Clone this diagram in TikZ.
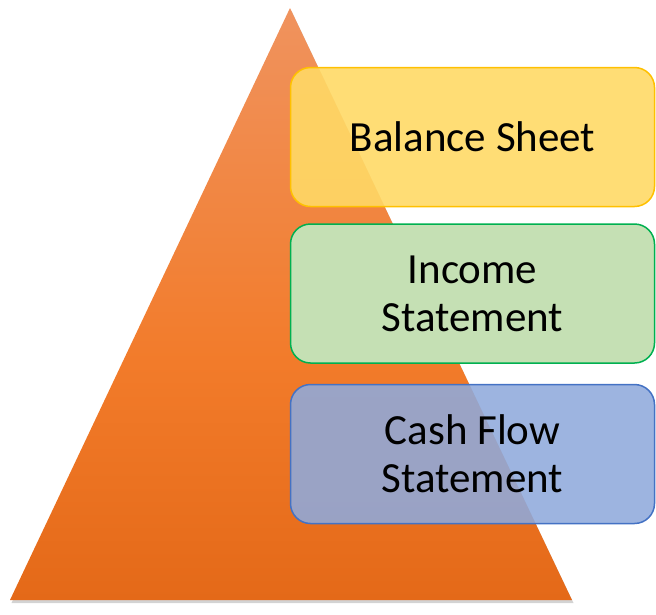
\documentclass[tikz,border=0pt]{standalone}
\usepackage{fontspec}
\setmainfont{Carlito}
\usetikzlibrary{shadows}
\usetikzlibrary{positioning}

\definecolor{tritop}{HTML}{F0935E}
\definecolor{trimid}{HTML}{F27B2A}
\definecolor{tribot}{HTML}{E46918}
\definecolor{balfill}{HTML}{FFD966}
\definecolor{baldraw}{HTML}{FFC000}
\definecolor{incfill}{HTML}{C5E0B4}
\definecolor{incdraw}{HTML}{00B050}
\definecolor{cashfill}{HTML}{8FAADC}
\definecolor{cashdraw}{HTML}{4472C4}

\pgfdeclareverticalshading{pyramidshade}{100bp}{color(0bp)=(tribot); color(25bp)=(tribot); color(45bp)=(trimid); color(75bp)=(tritop); color(100bp)=(tritop)}

\begin{document}
\begin{tikzpicture}[x=1pt, y=-1pt,
    sheetbox/.style={rectangle, rounded corners=20pt, line width=1.5pt, minimum width=364pt, minimum height=139pt, align=center, font=\fontsize{43}{48}\selectfont}]
    \useasboundingbox (0,0) rectangle (656,614);
    % pyramid
    \coordinate (apex) at (290,8);
    \coordinate (baseL) at (10,600);
    \coordinate (baseR) at (572,600);
    \shade[shading=pyramidshade, drop shadow={shadow xshift=1.5pt, shadow yshift=-3pt, opacity=0.35}] (apex) -- (baseR) -- (baseL) -- cycle;
    % statements
    \node[sheetbox, draw=baldraw, fill=balfill, fill opacity=0.9, text opacity=1] (balance) at (472.5,137) {Balance Sheet};
    \node[sheetbox, draw=incdraw, fill=incfill] (income) [below=16pt of balance] {Income\\Statement};
    \node[sheetbox, draw=cashdraw, fill=cashfill, fill opacity=0.88, text opacity=1] (cashflow) [below=20pt of income] {Cash Flow\\Statement};
\end{tikzpicture}
\end{document}
